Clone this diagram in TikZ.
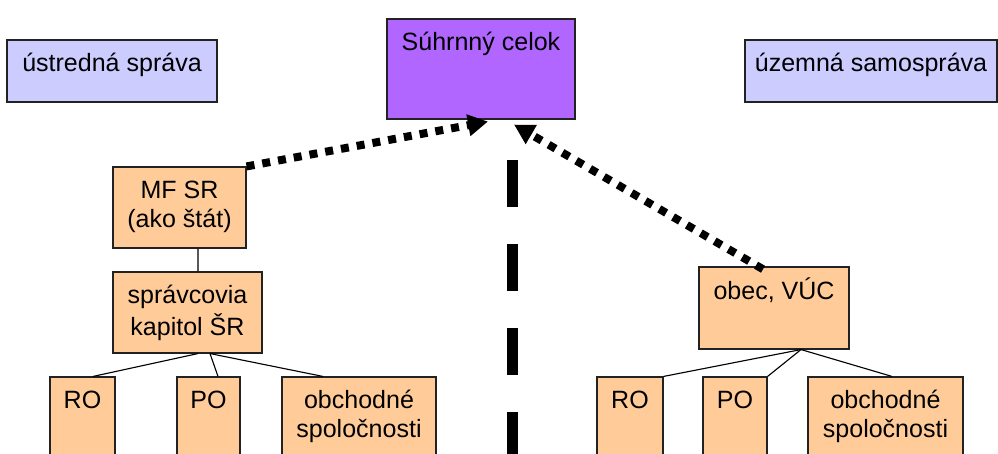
\documentclass[tikz,border=0pt]{standalone}
\usepackage{fontspec}
\setmainfont{Liberation Sans}
\usetikzlibrary{arrows.meta, positioning}
\definecolor{sector}{HTML}{CCCCFF}
\definecolor{total}{HTML}{B066FF}
\definecolor{unit}{HTML}{FFCC99}
\definecolor{edge}{HTML}{222222}

\begin{document}
\begin{tikzpicture}[
    every node/.style={font=\fontsize{17.8pt}{20.6pt}\selectfont},
    box/.style={rectangle, draw=edge, line width=0.8pt, inner sep=0pt},
    secbox/.style={box, fill=sector, minimum height=1.55cm},
    unitbox/.style={box, fill=unit},
    lbl/.style={anchor=north, align=center, inner sep=0.28cm},
    tie/.style={line width=0.8pt, color=black},
    report/.style={line width=0.2cm, dash pattern=on 0.2cm off 0.2cm, -{Triangle[length=0.5cm, width=0.52cm]}},
    divide/.style={line width=0.275cm, dash pattern=on 1.175cm off 0.925cm}
]
\useasboundingbox (0,0) rectangle (24.95,11.35);
\clip (0,0) rectangle (24.95,11.35);

% Sectors and the consolidated whole
\node[secbox, minimum width=5.25cm, label={[lbl]north:\strut ústredná správa}] (central) at (2.8,9.575) {};
\node[box, fill=total, minimum width=4.7cm, minimum height=2.5cm, label={[lbl]north:\strut Súhrnný celok}] (whole) at (12.025,9.625) {};
\node[secbox, minimum width=6.3cm, label={[lbl]north:\strut územná samospráva}] (local) at (21.775,9.575) {};

% State side
\node[unitbox, minimum width=3.325cm, minimum height=2.025cm, label={[lbl]north:\strut MF SR\\(ako štát)}] (mfsr) at (4.4875,6.1625) {};
\node[unitbox, minimum width=3.725cm, minimum height=2.025cm, label={[lbl]north:\strut správcovia\\kapitol ŠR}] (chapters) at (4.6875,3.5375) {};
\node[unitbox, minimum width=1.625cm, minimum height=2.025cm, label={[lbl]north:\strut RO}] (roL) at (2.0625,0.9125) {};
\node[unitbox, minimum width=1.575cm, minimum height=2.025cm, label={[lbl]north:\strut PO}] (poL) at (5.2125,0.9125) {};
\node[unitbox, minimum width=3.85cm, minimum height=2.025cm, label={[lbl]north:\strut obchodné\\spoločnosti}] (coL) at (8.975,0.9125) {};

% Municipal side
\node[unitbox, minimum width=3.75cm, minimum height=2.05cm, label={[lbl]north:\strut obec, VÚC}] (town) at (19.35,3.65) {};
\node[unitbox, minimum width=1.65cm, minimum height=2.025cm, label={[lbl]north:\strut RO}] (roR) at (15.75,0.9125) {};
\node[unitbox, minimum width=1.6cm, minimum height=2.025cm, label={[lbl]north:\strut PO}] (poR) at (18.375,0.9125) {};
\node[unitbox, minimum width=3.875cm, minimum height=2.025cm, label={[lbl]north:\strut obchodné\\spoločnosti}] (coR) at (22.1375,0.9125) {};

% Dividing line
\coordinate (divtop) at (12.8,7.35);
\coordinate (divbot) at (12.8,-0.2);
\draw[divide] (divtop) -- (divbot);

% Hierarchy
\draw[tie] ([xshift=0.4625cm]mfsr.south) -- ([xshift=0.2625cm]chapters.north);
\draw[tie] ([xshift=0.2625cm]chapters.south) -- ([xshift=0.2625cm]roL.north);
\draw[tie] ([xshift=0.5625cm]chapters.south) -- ([xshift=0.2375cm]poL.north);
\draw[tie] ([xshift=0.5625cm]chapters.south) -- ([xshift=-0.9cm]coL.north);
\draw[tie] ([xshift=0.675cm]town.south) -- (roR.north east);
\draw[tie] ([xshift=0.675cm]town.south) -- (poR.north east);
\draw[tie] ([xshift=0.675cm]town.south) -- ([xshift=0.1625cm]coR.north);

% Reporting into the whole
\draw[report] (mfsr.north east) -- ([xshift=0.175cm, yshift=-0.05cm]whole.south);
\draw[report] ([xshift=-0.275cm, yshift=-0.07cm]town.north) -- ([xshift=0.825cm, yshift=-0.125cm]whole.south);
\end{tikzpicture}
\end{document}
